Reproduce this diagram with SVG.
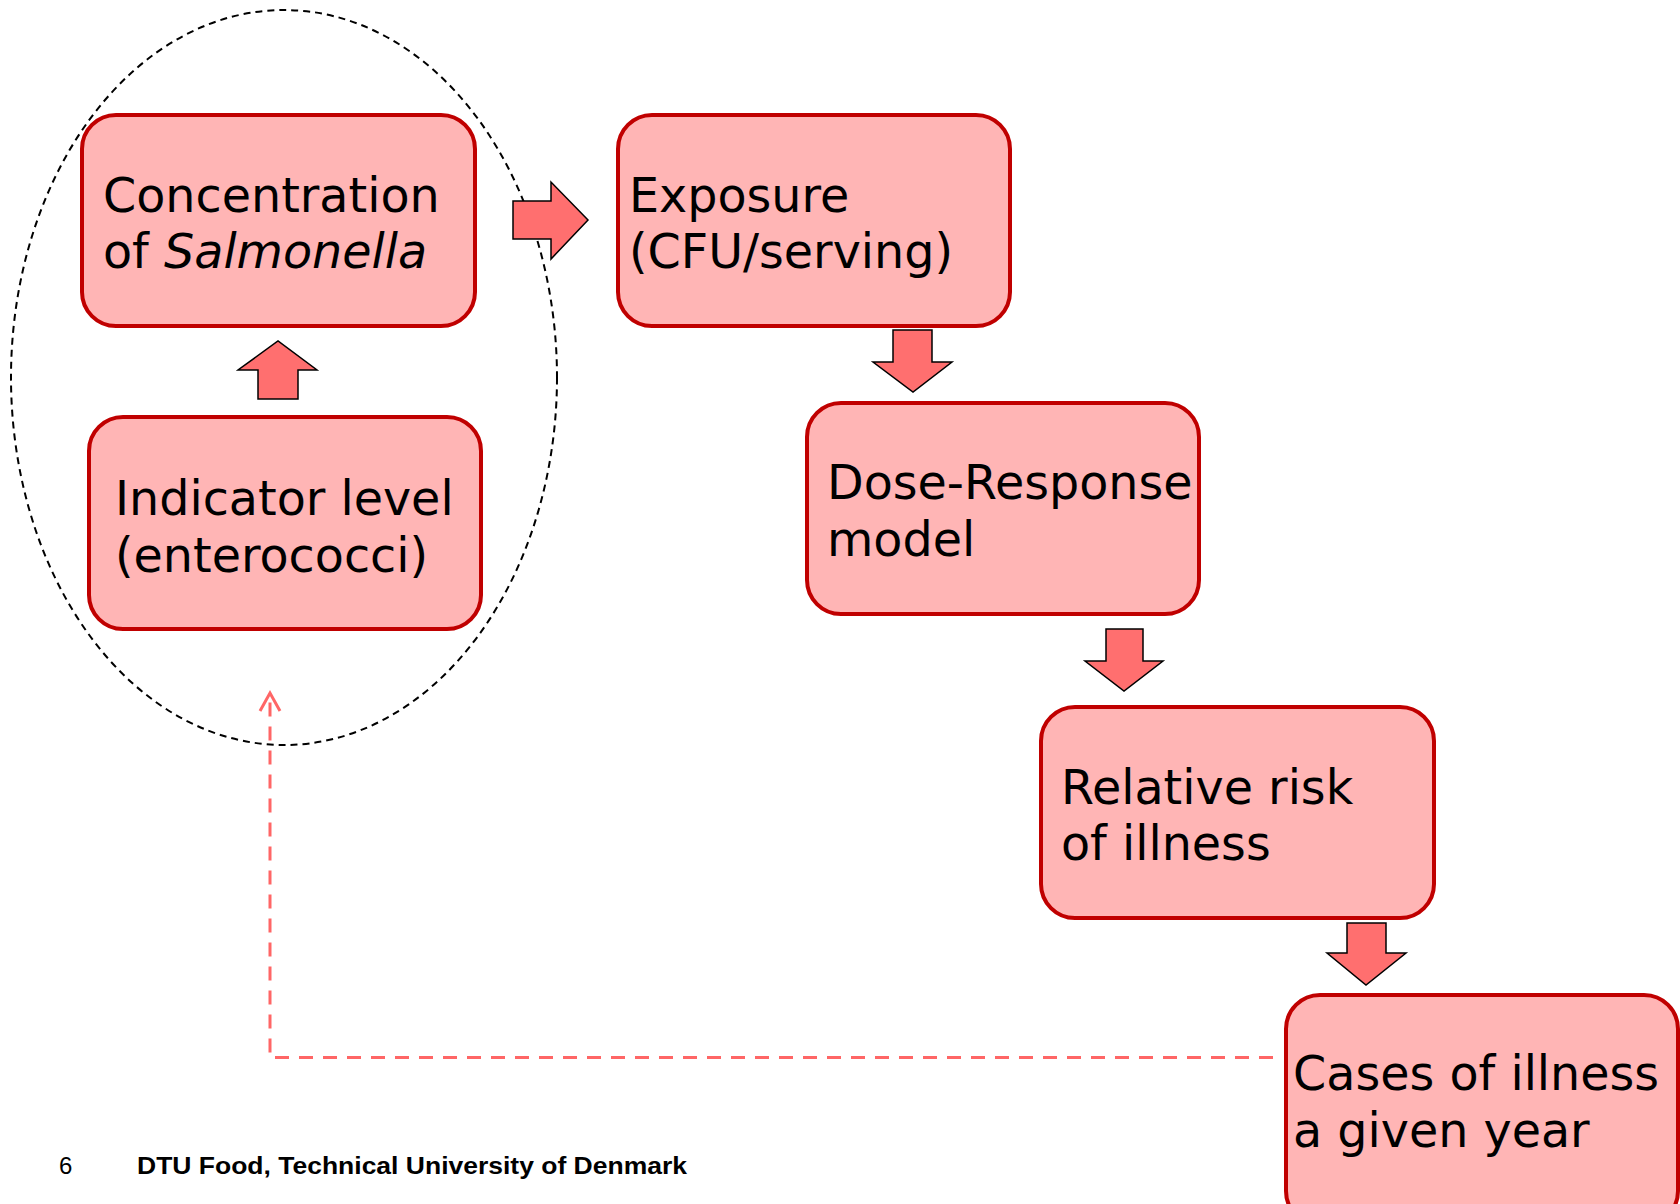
<svg xmlns="http://www.w3.org/2000/svg" width="1680" height="1204" viewBox="0 0 1680 1204">
<defs>
<style>
.node rect{fill:#FFB5B5;stroke:#C00000;stroke-width:4}
.node text{font-family:"DejaVu Sans",Verdana,sans-serif;font-size:47.6px;fill:#000}
.blk{fill:#FF6F6F;stroke:#000;stroke-width:1.5;stroke-linejoin:miter}
.foot{font-family:"Liberation Sans",Arial,sans-serif;font-size:24px;fill:#000}
</style>
<marker id="openhead" viewBox="0 0 24 24" refX="20" refY="12" markerWidth="24" markerHeight="24" markerUnits="userSpaceOnUse" orient="auto">
<path d="M2,2 L20,12 L2,22" fill="none" stroke="#FF6666" stroke-width="3"/>
</marker>
</defs>
<rect width="1680" height="1204" fill="#fff"/>

<ellipse cx="284" cy="377.5" rx="273" ry="367.5" fill="none" stroke="#000" stroke-width="2" stroke-dasharray="7 5"/>

<g id="n1" class="node">
<rect x="82" y="115" width="393" height="211" rx="34"/>
<text x="103" y="212">Concentration</text>
<text x="103" y="268">of <tspan font-style="italic">Salmonella</tspan></text>
</g>
<g id="n2" class="node">
<rect x="89" y="417" width="392" height="212" rx="34"/>
<text x="115" y="515">Indicator level</text>
<text x="115" y="572">(enterococci)</text>
</g>
<g id="n3" class="node">
<rect x="618" y="115" width="392" height="211" rx="34"/>
<text x="629" y="212">Exposure</text>
<text x="629" y="268">(CFU/serving)</text>
</g>
<g id="n4" class="node">
<rect x="807" y="403" width="392" height="211" rx="34"/>
<text x="827" y="499">Dose-Response</text>
<text x="827" y="556">model</text>
</g>
<g id="n5" class="node">
<rect x="1041" y="707" width="393" height="211" rx="34"/>
<text x="1061" y="804">Relative risk</text>
<text x="1061" y="860">of illness</text>
</g>
<g id="n6" class="node">
<rect x="1286" y="995" width="392" height="230" rx="34"/>
<text x="1293" y="1090">Cases of illness</text>
<text x="1293" y="1147">a given year</text>
</g>

<g id="connectors">
<polygon class="blk" points="513,201 551,201 551,182 588,220 551,259 551,239 513,239"/>
<polygon class="blk" points="258,399 258,370 238,370 278,341 317,370 298,370 298,399"/>
<polygon class="blk" points="893,330 932,330 932,362 952,362 913,392 873,362 893,362"/>
<polygon class="blk" points="1106,629 1143,629 1143,661 1163,661 1124,691 1085,661 1106,661"/>
<polygon class="blk" points="1347,923 1386,923 1386,953 1406,953 1366,985 1327,953 1347,953"/>
<path d="M1273,1057.5 L270,1057.5 L270,693" fill="none" stroke="#FF6666" stroke-width="3" stroke-dasharray="14 10" marker-end="url(#openhead)"/>
</g>

<text class="foot" x="59" y="1174" font-size="22">6</text>
<text class="foot" x="137" y="1174" font-weight="bold" textLength="550" lengthAdjust="spacingAndGlyphs">DTU Food, Technical University of Denmark</text>
</svg>
